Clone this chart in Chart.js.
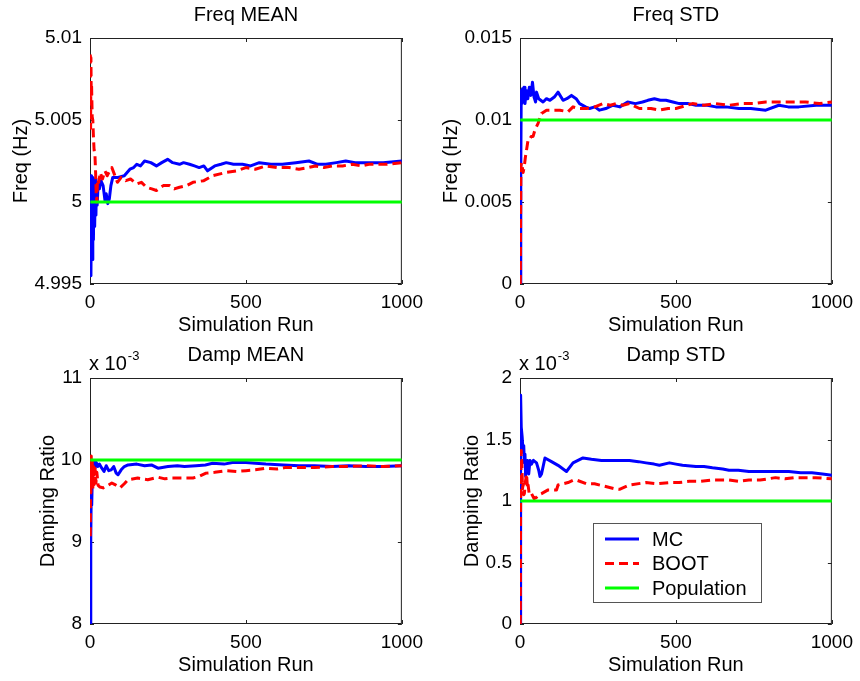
<!DOCTYPE html>
<html>
<head>
<meta charset="utf-8">
<title>MC vs BOOT convergence</title>
<script src="https://cdn.jsdelivr.net/npm/chart.js@4.4.0/dist/chart.umd.min.js"></script>
<style>
  body { margin: 0; background: #fff; }
  #wrap { position: relative; width: 860px; height: 681px; background: #fff; }
  canvas { position: absolute; }
</style>
</head>
<body>
<div id="wrap">
  <canvas id="freqMean" width="430" height="340" style="left:0;top:0"></canvas>
  <canvas id="freqStd" width="430" height="340" style="left:430px;top:0"></canvas>
  <canvas id="dampMean" width="430" height="340" style="left:0;top:340px"></canvas>
  <canvas id="dampStd" width="430" height="340" style="left:430px;top:340px"></canvas>
</div>
<script>
// series names, shared x ticks
const seriesNames = ['MC', 'BOOT', 'Population'];
const runTicks = [0, 500, 1000];
const popRuns = [1, 1000];

// Freq MEAN (Hz)
const fmTicks = [4.995, 5, 5.005, 5.01];
const fmRunsMC = [1,3,5,7,9,11,13,15,17,19,21,23,26,30,35,42,48,52,57,62,67,73,90,110,128,140,150,162,175,195,213,230,249,265,287,300,319,335,350,365,377,400,420,437,460,489,515,543,580,617,660,702,730,756,790,820,850,884,940,1000];
const fmMC = [5.0016,4.9955,5.0016,4.9965,5.0015,4.9977,5.0014,4.9985,5.0014,4.9992,5.0012,4.9998,5.0011,5.0008,5.0013,5.0010,5.0001,5.0005,4.9999,5.0002,5.0010,5.0015,5.0015,5.0016,5.0020,5.0021,5.0023,5.0022,5.0025,5.0024,5.0022,5.0024,5.0026,5.0024,5.0023,5.0024,5.0023,5.0022,5.0021,5.0022,5.0019,5.0022,5.0023,5.0024,5.0023,5.0023,5.0022,5.0024,5.0023,5.0023,5.0024,5.0025,5.0023,5.0023,5.0024,5.0025,5.0024,5.0024,5.0024,5.0025];
const fmRunsBoot = [1,2,3,4,5,7,9,11,13,16,18,20,22,24,28,33,40,48,55,63,70,78,88,100,115,130,150,165,181,198,213,235,255,270,287,310,330,365,393,436,470,500,530,564,600,638,670,700,723,750,777,810,841,870,894,950,1000];
const fmBoot = [5.0090,5.0045,5.0088,5.0065,5.0072,5.0052,5.0050,5.0040,5.0032,5.0028,5.0018,5.0004,5.0000,5.0014,5.0012,5.0018,5.0014,5.0019,5.0016,5.0019,5.0021,5.0017,5.0012,5.0015,5.0013,5.0014,5.0011,5.0012,5.0009,5.0008,5.0007,5.0010,5.0010,5.0008,5.0009,5.0010,5.0012,5.0013,5.0016,5.0018,5.0019,5.0021,5.0020,5.0022,5.0021,5.0021,5.0020,5.0021,5.0022,5.0021,5.0022,5.0022,5.0023,5.0022,5.0023,5.0023,5.0024];
const fmPop = [5, 5];

// Freq STD (Hz)
const fsTicks = [0, 0.005, 0.01, 0.015];
const fsRunsMC = [1,2,3,4,6,8,10,13,16,20,25,30,35,40,45,50,53,60,74,85,96,110,122,138,150,165,180,191,210,223,240,255,275,298,320,345,370,393,410,431,450,468,490,511,540,564,600,628,660,702,740,788,830,860,894,950,1000];
const fsMC = [0,0.0025,0.0068,0.0118,0.0110,0.0119,0.0112,0.0120,0.0110,0.0118,0.0113,0.0120,0.0115,0.0123,0.0114,0.0111,0.0117,0.0113,0.0111,0.0113,0.0112,0.0114,0.0117,0.0112,0.0113,0.0115,0.0113,0.0110,0.0108,0.0107,0.0108,0.0106,0.0107,0.0109,0.0108,0.0111,0.0110,0.0111,0.0112,0.0113,0.0112,0.0112,0.0111,0.0110,0.0110,0.0109,0.0109,0.0108,0.0108,0.0107,0.0107,0.0106,0.0109,0.0108,0.0108,0.0109,0.0109];
const fsRunsBoot = [1,2,3,5,10,14,17,22,26,31,36,42,48,58,69,85,105,128,154,170,190,213,240,266,290,308,330,351,383,420,447,475,500,553,590,628,670,712,750,788,852,916,960,1000];
const fsBoot = [0,0.0040,0.0072,0.0074,0.0068,0.0072,0.0077,0.0083,0.0088,0.0088,0.0090,0.0090,0.0094,0.0098,0.0104,0.0106,0.0106,0.0106,0.0105,0.0108,0.0107,0.0107,0.0108,0.0110,0.0109,0.0110,0.0109,0.0110,0.0107,0.0107,0.0106,0.0107,0.0107,0.0110,0.0109,0.0110,0.0109,0.0110,0.0110,0.0111,0.0111,0.0111,0.0110,0.0111];
const fsPop = [0.01, 0.01];

// Damp MEAN (x 10^-3)
const dmTicks = [8, 9, 10, 11];
const dmRunsMC = [1,2,3,4,5,6,8,10,13,16,20,25,30,38,45,52,60,68,76,84,90,100,110,122,150,175,197,218,250,280,303,340,370,393,430,457,500,530,564,620,670,720,777,830,884,940,1000];
const dmMC = [8.0,9.55,9.05,9.60,9.95,9.45,9.90,9.85,9.98,9.90,9.97,9.92,9.95,9.90,9.86,9.93,9.87,9.88,9.92,9.84,9.82,9.88,9.92,9.94,9.95,9.93,9.94,9.90,9.92,9.93,9.92,9.93,9.94,9.96,9.95,9.97,9.97,9.96,9.95,9.94,9.93,9.93,9.92,9.93,9.92,9.92,9.93];
const dmRunsBoot = [1,2,3,4,5,7,9,11,13,16,19,22,26,32,42,57,70,80,96,110,122,153,185,218,240,261,298,330,350,372,400,436,470,500,530,564,600,628,670,720,777,830,884,940,1000];
const dmBoot = [9.07,10.06,9.60,10.05,9.70,10.00,9.65,9.95,9.70,9.90,9.72,9.85,9.69,9.67,9.66,9.69,9.72,9.70,9.66,9.71,9.76,9.78,9.76,9.79,9.77,9.78,9.78,9.78,9.80,9.84,9.85,9.87,9.86,9.87,9.88,9.90,9.89,9.91,9.91,9.91,9.92,9.92,9.93,9.92,9.93];
const dmPop = [10, 10];

// Damp STD (x 10^-3)
const dsTicks = [0, 0.5, 1, 1.5, 2];
const dsRunsMC = [1,2,4,7,10,12,14,16,18,21,24,28,32,37,43,53,60,64,69,80,101,122,149,170,202,229,261,303,351,380,404,430,447,479,500,521,564,590,617,650,670,700,734,770,798,830,862,900,936,970,1000];
const dsMC = [0,1.86,1.60,1.52,1.40,1.45,1.31,1.38,1.20,1.30,1.33,1.22,1.33,1.30,1.33,1.31,1.25,1.20,1.22,1.35,1.32,1.29,1.24,1.31,1.35,1.34,1.33,1.33,1.33,1.32,1.31,1.30,1.29,1.31,1.30,1.29,1.28,1.28,1.27,1.26,1.25,1.25,1.24,1.24,1.24,1.24,1.24,1.23,1.23,1.22,1.21];
const dsRunsBoot = [1,2,4,6,8,10,12,14,17,21,24,26,30,37,45,53,60,69,90,117,122,154,172,181,213,239,271,303,319,351,404,440,479,510,543,580,617,670,700,734,770,819,850,883,947,1000];
const dsBoot = [0,1.0,1.41,1.30,1.10,1.14,1.05,1.06,1.15,1.22,1.10,1.13,1.05,1.06,1.02,1.03,1.05,1.06,1.09,1.09,1.13,1.15,1.17,1.17,1.14,1.14,1.12,1.10,1.095,1.13,1.15,1.14,1.15,1.15,1.16,1.16,1.17,1.17,1.16,1.17,1.17,1.19,1.18,1.19,1.19,1.18];
const dsPop = [1, 1];

const FONT = "'Liberation Sans', Arial, sans-serif";
Chart.defaults.font.family = FONT;
Chart.defaults.color = '#000';

function pts(xs, ys) {
  return xs.map((x, i) => ({ x: x, y: ys[i] }));
}

// box round the axes with small inward ticks, like matlab
const frame = {
  id: 'frame',
  beforeDatasetsDraw(chart) {
    const { ctx, chartArea: a, scales } = chart;
    ctx.save();
    ctx.strokeStyle = '#222';
    ctx.lineWidth = 1;
    ctx.strokeRect(a.left + 0.5, a.top + 0.5, a.width - 1, a.height - 1);
    ctx.beginPath();
    scales.x.ticks.forEach(t => {
      const px = Math.round(scales.x.getPixelForValue(t.value)) + 0.5;
      ctx.moveTo(px, a.bottom); ctx.lineTo(px, a.bottom - 4);
      ctx.moveTo(px, a.top); ctx.lineTo(px, a.top + 4);
    });
    scales.y.ticks.forEach(t => {
      const py = Math.round(scales.y.getPixelForValue(t.value)) + 0.5;
      ctx.moveTo(a.left, py); ctx.lineTo(a.left + 4, py);
      ctx.moveTo(a.right, py); ctx.lineTo(a.right - 4, py);
    });
    ctx.stroke();
    ctx.restore();
  }
};

// "x 10^-3" above the y axis
const expo = {
  id: 'expo',
  afterDraw(chart, args, opts) {
    if (!opts.power) return;
    const { ctx, chartArea: a } = chart;
    ctx.save();
    ctx.fillStyle = '#000';
    ctx.textBaseline = 'alphabetic';
    ctx.textAlign = 'left';
    ctx.font = '20px ' + FONT;
    const base = 'x 10';
    ctx.fillText(base, a.left - 1, 30);
    const w = ctx.measureText(base).width;
    ctx.font = '13px ' + FONT;
    ctx.fillText(opts.power, a.left - 1 + w + 1, 20);
    ctx.restore();
  }
};

// boxed legend inside the damp STD axes
const boxLegend = {
  id: 'boxLegend',
  afterDraw(chart) {
    const { ctx } = chart;
    const bx = 163, by = 183, bw = 168, bh = 79;
    ctx.save();
    ctx.fillStyle = '#fff';
    ctx.fillRect(bx, by, bw, bh);
    ctx.strokeStyle = '#555';
    ctx.lineWidth = 1;
    ctx.strokeRect(bx + 0.5, by + 0.5, bw, bh);
    ctx.font = '20px ' + FONT;
    ctx.textBaseline = 'middle';
    ctx.fillStyle = '#000';
    const rows = [199, 223.5, 248];
    chart.data.datasets.forEach((ds, i) => {
      const y = rows[i];
      ctx.beginPath();
      ctx.strokeStyle = ds.borderColor;
      ctx.lineWidth = ds.borderWidth;
      ctx.setLineDash(ds.borderDash || []);
      ctx.moveTo(175, y); ctx.lineTo(209, y);
      ctx.stroke();
      ctx.setLineDash([]);
      ctx.fillText(ds.label, 222, y + 1);
    });
    ctx.restore();
  }
};

function makeChart(id, cfg) {
  const datasets = [
    { label: seriesNames[0], data: pts(cfg.mcRuns, cfg.mc), borderColor: '#0000ff', borderWidth: 3, order: 3 },
    { label: seriesNames[1], data: pts(cfg.bootRuns, cfg.boot), borderColor: '#ff0000', borderWidth: 3, borderDash: [9, 5], order: 2 },
    { label: seriesNames[2], data: pts(popRuns, cfg.pop), borderColor: '#00ff00', borderWidth: 3, order: 1 }
  ];
  datasets.forEach(d => {
    d.pointRadius = 0;
    d.tension = 0;
    d.fill = false;
    d.borderJoinStyle = 'round';
  });
  const plugins = [frame, expo];
  if (cfg.legend) plugins.push(boxLegend);
  return new Chart(document.getElementById(id), {
    type: 'line',
    data: { datasets: datasets },
    plugins: plugins,
    options: {
      responsive: false,
      animation: false,
      devicePixelRatio: 1,
      layout: { padding: { left: 0, right: 27, top: 0, bottom: 0 } },
      plugins: {
        legend: { display: false },
        tooltip: { enabled: false },
        title: {
          display: true,
          text: cfg.title,
          fullSize: false,
          color: '#000',
          font: { size: 20, weight: 'normal', lineHeight: 1.2 },
          padding: { top: 3, bottom: 11 }
        },
        expo: { power: cfg.power || '' }
      },
      scales: {
        x: {
          type: 'linear',
          min: 0,
          max: 1000,
          afterBuildTicks: s => { s.ticks = runTicks.map(v => ({ value: v })); },
          afterFit: s => { s.height = 56; },
          grid: { display: false, drawTicks: false },
          border: { display: false },
          ticks: { font: { size: 19 }, padding: 7, maxRotation: 0, autoSkip: false, callback: v => String(v) },
          title: { display: true, text: 'Simulation Run', font: { size: 20 }, padding: { top: 0, bottom: 3 } }
        },
        y: {
          min: cfg.ticks[0],
          max: cfg.ticks[cfg.ticks.length - 1],
          afterBuildTicks: s => { s.ticks = cfg.ticks.map(v => ({ value: v })); },
          afterFit: s => { s.width = 90; },
          grid: { display: false, drawTicks: false },
          border: { display: false },
          ticks: { font: { size: 19 }, padding: 8, autoSkip: false, callback: v => String(v) },
          title: { display: true, text: cfg.yTitle, font: { size: 20 }, padding: { top: cfg.yTitlePad, bottom: 0 } }
        }
      }
    }
  });
}

makeChart('freqMean', {
  title: 'Freq MEAN', yTitle: 'Freq (Hz)', yTitlePad: 9, ticks: fmTicks,
  mcRuns: fmRunsMC, mc: fmMC, bootRuns: fmRunsBoot, boot: fmBoot, pop: fmPop
});
makeChart('freqStd', {
  title: 'Freq STD', yTitle: 'Freq (Hz)', yTitlePad: 9, ticks: fsTicks,
  mcRuns: fsRunsMC, mc: fsMC, bootRuns: fsRunsBoot, boot: fsBoot, pop: fsPop
});
makeChart('dampMean', {
  title: 'Damp MEAN', yTitle: 'Damping Ratio', yTitlePad: 36, ticks: dmTicks, power: '-3',
  mcRuns: dmRunsMC, mc: dmMC, bootRuns: dmRunsBoot, boot: dmBoot, pop: dmPop
});
makeChart('dampStd', {
  title: 'Damp STD', yTitle: 'Damping Ratio', yTitlePad: 30, ticks: dsTicks, power: '-3', legend: true,
  mcRuns: dsRunsMC, mc: dsMC, bootRuns: dsRunsBoot, boot: dsBoot, pop: dsPop
});
</script>
</body>
</html>
